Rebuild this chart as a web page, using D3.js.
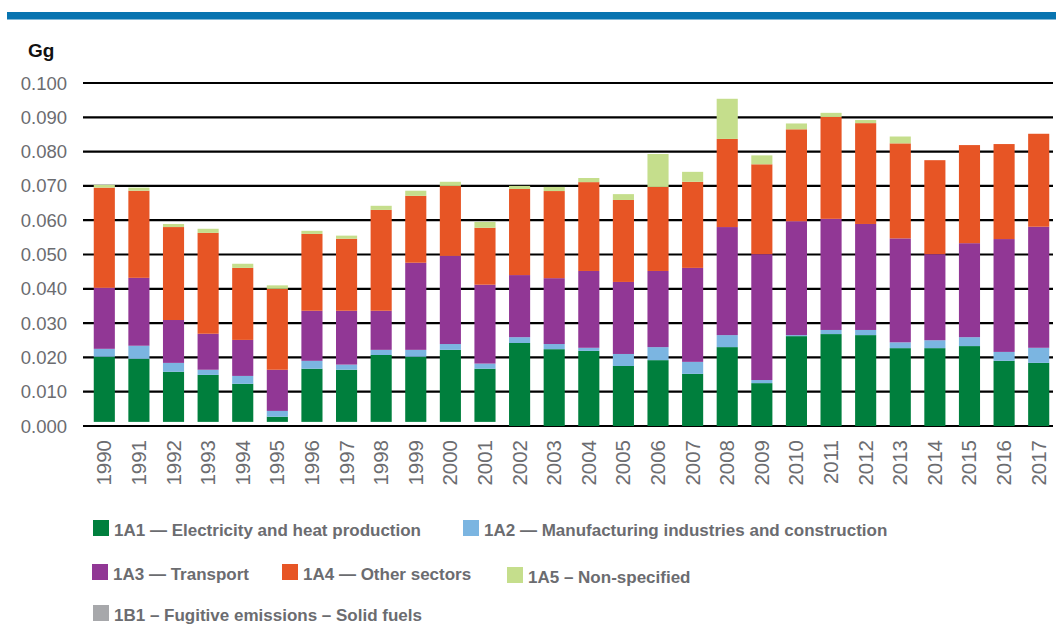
<!DOCTYPE html>
<html lang="en">

<head>
  <meta charset="utf-8">
  <title>Emissions by sector</title>
  <script src="https://d3js.org/d3.v7.min.js"></script>
</head>

<body style="margin:0;background:#fff">
  <div id="chart"></div>

  <style>
    #chart text {
      font-family: "Liberation Sans", Arial, sans-serif;
      fill: #6b6c70;
    }
  </style>

  <script type="text/javascript">
    "use strict"

    var anos = d3.range(1990, 2018).map(String);

    // valores em Gg
    var b1 = [0.0012, 0.0012, 0.0012, 0.0012, 0.0012, 0.0012, 0.0012, 0.0012, 0.0012, 0.0012, 0.0012, 0.0012,
              0, 0, 0, 0, 0, 0, 0, 0, 0, 0, 0, 0, 0, 0, 0, 0];
    var a1 = [0.0190, 0.0184, 0.0146, 0.0137, 0.0111, 0.0015, 0.0155, 0.0152, 0.0195, 0.0190, 0.0210, 0.0155,
              0.0242, 0.0224, 0.0219, 0.0175, 0.0192, 0.0152, 0.0230, 0.0125, 0.0262, 0.0268, 0.0265, 0.0227,
              0.0227, 0.0233, 0.0190, 0.0184];
    var a2 = [0.0023, 0.0038, 0.0026, 0.0015, 0.0023, 0.0017, 0.0023, 0.0015, 0.0015, 0.0020, 0.0017, 0.0015,
              0.0017, 0.0015, 0.0009, 0.0035, 0.0038, 0.0035, 0.0035, 0.0009, 0.0003, 0.0012, 0.0015, 0.0017,
              0.0023, 0.0026, 0.0026, 0.0044];
    var a3 = [0.0178, 0.0198, 0.0125, 0.0105, 0.0105, 0.0120, 0.0146, 0.0157, 0.0114, 0.0254, 0.0257, 0.0230,
              0.0181, 0.0192, 0.0224, 0.0210, 0.0222, 0.0274, 0.0315, 0.0367, 0.0332, 0.0324, 0.0309, 0.0303,
              0.0251, 0.0274, 0.0329, 0.0353];
    var a4 = [0.0292, 0.0254, 0.0271, 0.0294, 0.0210, 0.0236, 0.0224, 0.0210, 0.0294, 0.0195, 0.0204, 0.0166,
              0.0251, 0.0254, 0.0259, 0.0239, 0.0245, 0.0251, 0.0257, 0.0262, 0.0268, 0.0297, 0.0294, 0.0277,
              0.0274, 0.0286, 0.0277, 0.0271];
    var a5 = [0.0008, 0.0009, 0.0009, 0.0012, 0.0012, 0.0010, 0.0009, 0.0009, 0.0012, 0.0015, 0.0012, 0.0017,
              0.0009, 0.0012, 0.0012, 0.0017, 0.0096, 0.0029, 0.0117, 0.0026, 0.0017, 0.0012, 0.0009, 0.0020,
              0, 0, 0, 0];

    var setores = ["1B1", "1A1", "1A2", "1A3", "1A4", "1A5"];
    var series = {"1B1": b1, "1A1": a1, "1A2": a2, "1A3": a3, "1A4": a4, "1A5": a5};
    var cores = {"1A1": "#007f3d", "1A2": "#7bb5e1", "1A3": "#913795", "1A4": "#e75525", "1A5": "#c5de8c", "1B1": "#a7a8ab"};
    // nos anos iniciais o 1B1 aparece como faixa vazia na base das barras
    var corBarra = {"1B1": "none"};

    var legendas = [
      {k: "1A1", t: "1A1 — Electricity and heat production", x: 93, y: 520},
      {k: "1A2", t: "1A2 — Manufacturing industries and construction", x: 463, y: 520},
      {k: "1A3", t: "1A3 — Transport", x: 92, y: 564},
      {k: "1A4", t: "1A4 — Other sectors", x: 282, y: 564},
      {k: "1A5", t: "1A5 – Non-specified", x: 507, y: 567},
      {k: "1B1", t: "1B1 – Fugitive emissions – Solid fuels", x: 93, y: 605}
    ];

    var tabela = anos.map((ano, i) => {
      var linha = {ano: ano};
      setores.forEach(s => linha[s] = series[s][i]);
      return linha;
    });

    var larguraSVG = 1056, alturaSVG = 625;

    var svg = d3.select('#chart')
      .append('svg')
        .attr('width', larguraSVG)
        .attr('height', alturaSVG);

    // faixa azul no topo
    svg.append('rect')
      .attr('x', 7).attr('y', 12)
      .attr('width', 1049).attr('height', 7.5)
      .attr('fill', '#0874b0');

    var x = d3.scaleBand()
      .domain(anos)
      .range([87, 1056])
      .paddingInner(0.39)
      .paddingOuter(0.195);

    var y = d3.scaleLinear()
      .domain([0, 0.1])
      .range([426, 83]);

    var ticks = d3.range(0, 0.1001, 0.01);

    // linhas de grade
    svg.append('g')
      .selectAll('line')
      .data(ticks)
      .enter()
        .append('line')
          .attr('x1', 83).attr('x2', 1053)
          .attr('y1', d => y(d)).attr('y2', d => y(d))
          .attr('stroke', '#000')
          .attr('stroke-width', 2.2);

    var pilha = d3.stack().keys(setores)(tabela);

    svg.append('g')
      .selectAll('g')
      .data(pilha)
      .enter()
        .append('g')
          .attr('fill', d => corBarra[d.key] || cores[d.key])
        .selectAll('rect')
        .data(d => d)
        .enter()
          .append('rect')
            .attr('x', d => x(d.data.ano))
            .attr('y', d => y(d[1]))
            .attr('width', x.bandwidth())
            .attr('height', d => y(d[0]) - y(d[1]));

    // eixo y
    svg.append('g')
      .selectAll('text')
      .data(ticks)
      .enter()
        .append('text')
          .attr('x', 67)
          .attr('y', d => y(d) + 6.5)
          .attr('text-anchor', 'end')
          .style('font-size', '18.5px')
          .text(d => d3.format('.3f')(d));

    svg.append('text')
      .attr('x', 28).attr('y', 57)
      .style('font-size', '19px')
      .style('font-weight', 'bold')
      .style('fill', '#111')
      .text('Gg');

    // eixo x (anos na vertical)
    svg.append('g')
      .selectAll('text')
      .data(anos)
      .enter()
        .append('text')
          .attr('transform', d => 'translate(' + (x(d) + x.bandwidth() / 2 + 7) + ',440) rotate(-90)')
          .attr('text-anchor', 'end')
          .style('font-size', '20.5px')
          .text(d => d);

    // legenda
    var leg = svg.append('g')
      .selectAll('g')
      .data(legendas)
      .enter()
        .append('g')
          .attr('transform', d => 'translate(' + d.x + ',' + d.y + ')');

    leg.append('rect')
      .attr('width', 16).attr('height', 16)
      .attr('fill', d => cores[d.k]);

    leg.append('text')
      .attr('x', 21).attr('y', 15.5)
      .style('font-size', '17px')
      .style('font-weight', 'bold')
      .text(d => d.t);
  </script>
</body>

</html>
